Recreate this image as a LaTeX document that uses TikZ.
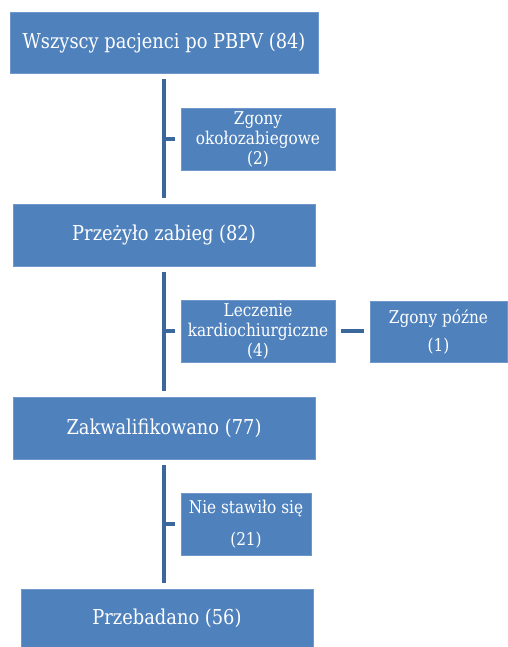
\documentclass[tikz,border=0pt]{standalone}
\usepackage{fontspec}
\setmainfont[FakeStretch=0.87]{DejaVu Serif}
\definecolor{boxblue}{HTML}{4F81BD}
\definecolor{boxedge}{HTML}{6F97C9}
\definecolor{linkblue}{HTML}{3C679C}
\begin{document}
\begin{tikzpicture}[x=1pt,y=1pt,
  bigbox/.style={draw=boxedge,line width=0.6pt,fill=boxblue,text=white,inner sep=0pt,align=center,font=\fontsize{20.5}{24}\selectfont},
  smallbox/.style={draw=boxedge,line width=0.6pt,fill=boxblue,text=white,inner sep=0pt,align=center,font=\fontsize{17.6}{20}\selectfont},
  link/.style={draw=linkblue,line width=4pt}]
\useasboundingbox (0,0) rectangle (507,647);
\node[bigbox,minimum width=308,minimum height=61] (b1) at (164,604.5) {Wszyscy pacjenci po PBPV (84)};
\node[smallbox,minimum width=154,minimum height=62] (b2) at (258,508) {Zgony\\okołozabiegowe\\(2)};
\node[bigbox,minimum width=302,minimum height=62] (b3) at (164,412) {Przeżyło zabieg (82)};
\node[smallbox,minimum width=154,minimum height=62] (b4) at (258,316) {Leczenie\\kardiochiurgiczne\\(4)};
\node[smallbox,minimum width=137,minimum height=61,font=\fontsize{17.6}{28}\selectfont] (b5) at (438.5,315.5) {Zgony późne\\(1)};
\node[bigbox,minimum width=302,minimum height=62] (b6) at (164,219) {Zakwalifikowano (77)};
\node[smallbox,minimum width=130,minimum height=62,font=\fontsize{17.6}{32}\selectfont] (b7) at (246,123) {Nie stawiło się\\(21)};
\node[bigbox,minimum width=292,minimum height=58] (b8) at (167,29) {Przebadano (56)};
% trunk 1
\draw[link] ([yshift=-6pt]b1.south) -- ([yshift=6pt]b3.north);
\draw[link] ([xshift=-6pt]b2.west) -- (b1.south |- b2.west);
% trunk 2
\draw[link] ([yshift=-6pt]b3.south) -- ([yshift=6pt]b6.north);
\draw[link] ([xshift=-6pt]b4.west) -- (b3.south |- b4.west);
\draw[link] ([xshift=6pt]b4.east) -- ([xshift=-6pt]b5.west |- b4.east);
% trunk 3
\draw[link] ([yshift=-6pt]b6.south) -- ([yshift=6pt,xshift=-3pt]b8.north);
\draw[link] ([xshift=-6pt]b7.west) -- (b6.south |- b7.west);
\end{tikzpicture}
\end{document}
